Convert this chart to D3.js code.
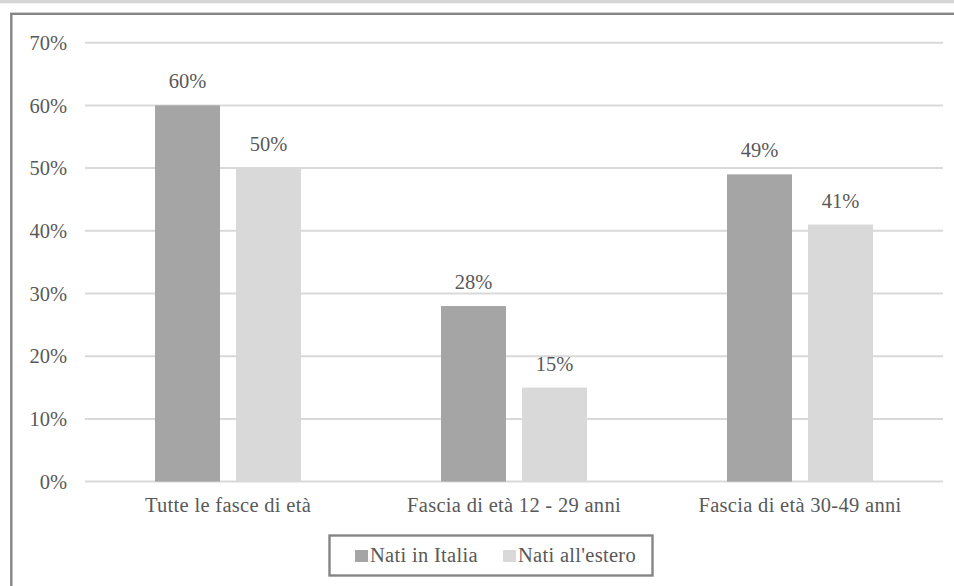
<!DOCTYPE html>
<html><head><meta charset="utf-8">
<script src="https://cdn.jsdelivr.net/npm/d3@7"></script>
<style>
html,body{margin:0;padding:0;background:#fff;}
svg{display:block;}
</style></head><body>
<script>
const categories = ["Tutte le fasce di età", "Fascia di età 12 - 29 anni", "Fascia di età 30-49 anni"];
const seriesNames = ["Nati in Italia", "Nati all'estero"];
const natiItalia = [0.60, 0.28, 0.49];
const natiEstero = [0.50, 0.15, 0.41];
const yTicks = [0, 0.1, 0.2, 0.3, 0.4, 0.5, 0.6, 0.7];
const colors = ["#a5a5a5", "#d9d9d9"];

const FONT = '"Liberation Serif"';
const FS = "20.5px";
const TXT = "#595959";
function styleText(sel){ return sel.attr("font-family", null).style("font-family", FONT).style("font-size", FS).style("fill", TXT); }

const W = 954, H = 586;
const svg = d3.select("body").append("svg").attr("width", W).attr("height", H);

svg.append("rect").attr("x",0).attr("y",0).attr("width",W).attr("height",3.3).attr("fill","#d6d6d6");
svg.append("rect").attr("x",11.3).attr("y",13.8).attr("width",W+20).attr("height",H+20)
  .attr("fill","none").attr("stroke","#858585").attr("stroke-width",2.4);

const plot = {left:85, right:943, top:42.7, bottom:481.6};
const x0 = d3.scaleBand().domain(categories).range([plot.left, plot.right]);
const y = d3.scaleLinear().domain([0, 0.7]).range([plot.bottom, plot.top]);
const fmt = d3.format(".0%");

svg.append("g").selectAll("line").data(yTicks).join("line")
  .attr("x1", plot.left).attr("x2", plot.right)
  .attr("y1", d => y(d)).attr("y2", d => y(d))
  .attr("stroke", "#d9d9d9").attr("stroke-width", 2);

const yAxis = d3.axisLeft(y).tickValues(yTicks).tickFormat(fmt).tickSize(0).tickPadding(0);
const ya = svg.append("g").attr("transform", `translate(67,0)`).call(yAxis);
ya.attr("font-family", null).attr("font-size", null);
ya.select(".domain").remove();
styleText(ya.selectAll("text")).attr("dy","0.33em");

const barW = 65, gap = 16;
const data = categories.map((c, i) => ({cat: c, vals: [natiItalia[i], natiEstero[i]]}));
const groups = svg.append("g").selectAll("g").data(data).join("g")
  .attr("transform", d => `translate(${x0(d.cat) + x0.bandwidth()/2 - (barW*2+gap)/2},0)`);

groups.selectAll("rect").data(d => d.vals.map((v,j)=>({v,j}))).join("rect")
  .attr("x", d => d.j*(barW+gap)).attr("width", barW)
  .attr("y", d => y(d.v)).attr("height", d => y(0) - y(d.v))
  .attr("fill", d => colors[d.j]);

styleText(groups.selectAll("text.lbl").data(d => d.vals.map((v,j)=>({v,j}))).join("text")
  .attr("class","lbl")
  .attr("x", d => d.j*(barW+gap) + barW/2).attr("y", d => y(d.v) - 17)
  .attr("text-anchor","middle").text(d => fmt(d.v)));

const xAxis = d3.axisBottom(x0).tickSize(0).tickPadding(0);
const xa = svg.append("g").attr("transform", `translate(0,${plot.bottom})`).call(xAxis);
xa.attr("font-family", null).attr("font-size", null);
xa.select(".domain").remove();
styleText(xa.selectAll("text")).attr("dy",null).attr("y",30).style("letter-spacing","0.3px");

const lg = svg.append("g");
lg.append("rect").attr("x",329.5).attr("y",535.5).attr("width",323).attr("height",40)
  .attr("fill","#fff").attr("stroke","#858585").attr("stroke-width",2.4);
const legX = [355, 503];
seriesNames.forEach((n,i) => {
  lg.append("rect").attr("x",legX[i]).attr("y",550).attr("width",13).attr("height",12).attr("fill",colors[i]);
  styleText(lg.append("text").attr("x",legX[i]+15).attr("y",562).text(n)).style("letter-spacing","0.3px");
});
</script>
</body></html>
